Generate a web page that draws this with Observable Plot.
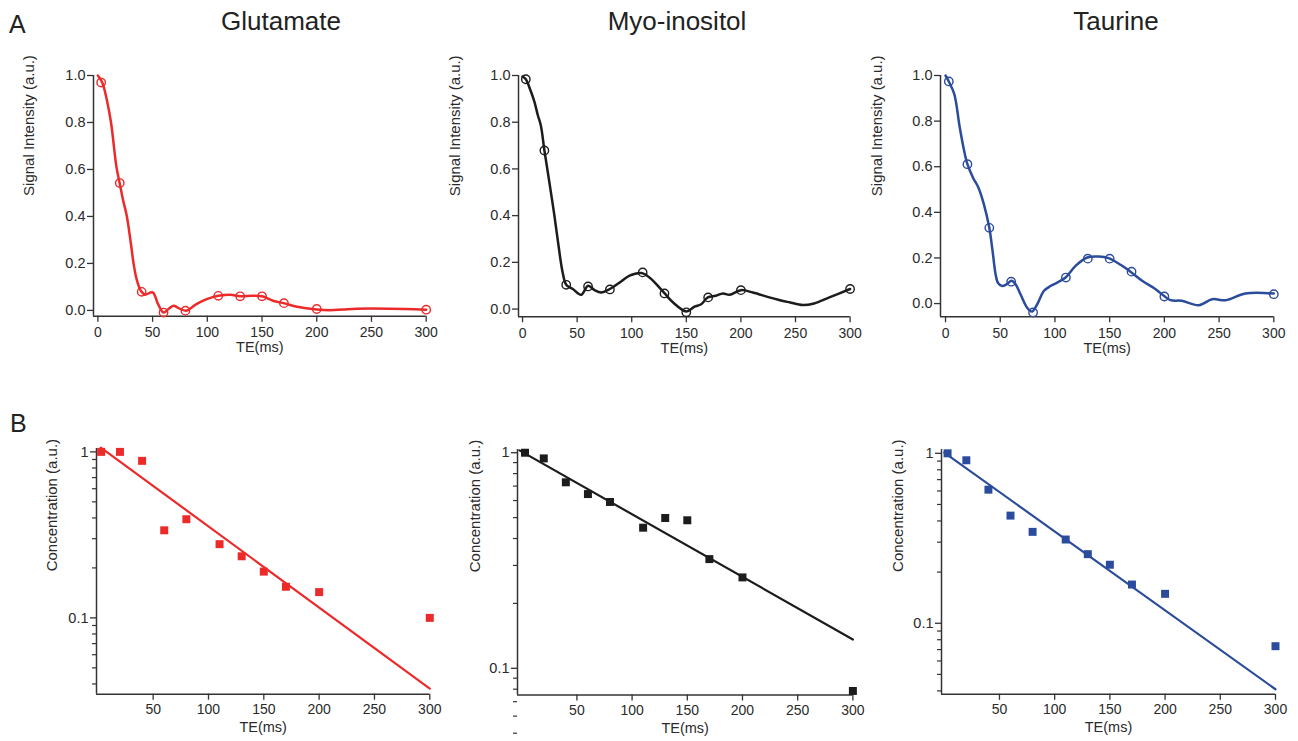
<!DOCTYPE html>
<html>
<head>
<meta charset="utf-8">
<script src="https://cdn.jsdelivr.net/npm/d3@7"></script>
<script src="https://cdn.jsdelivr.net/npm/@observablehq/plot@0.6"></script>
<style>
  html, body { margin: 0; padding: 0; background: #fff; }
  #wrap { position: relative; width: 1298px; height: 741px; overflow: hidden; font-family: "Liberation Sans", Arial, Helvetica, sans-serif; color: #222; }
  .title { position: absolute; font-size: 26px; line-height: 26px; white-space: nowrap; transform: translateX(-50%); }
  .letter { position: absolute; font-size: 25px; line-height: 25px; }
</style>
</head>
<body>
<div id="wrap">
  <div class="letter" style="left:9px; top:12px;">A</div>
  <div class="letter" style="left:10px; top:411px;">B</div>
  <div class="title" style="left:281px; top:8px;">Glutamate</div>
  <div class="title" style="left:677px; top:8px;">Myo-inositol</div>
  <div class="title" style="left:1116px; top:8px;">Taurine</div>
</div>
<script>
// ---------- data ----------
const TE = [3, 20, 40, 60, 80, 110, 130, 150, 170, 200, 300];

// Panel A: measured signal intensities (circles)
const gluSignal = [0.970, 0.542, 0.079, -0.009, -0.001, 0.062, 0.060, 0.060, 0.031, 0.006, 0.003];
const myoSignal = [0.984, 0.679, 0.104, 0.097, 0.084, 0.157, 0.067, -0.014, 0.050, 0.081, 0.086];
const tauSignal = [0.974, 0.611, 0.332, 0.096, -0.039, 0.114, 0.197, 0.197, 0.140, 0.031, 0.041];

// Panel A: simulated curves
const gluCurveTE = [0, 4, 8, 12, 17, 20, 23, 26.5, 30, 32.6, 35, 38, 40, 43, 50, 55, 60, 64.5, 69, 73.7, 80.7, 90, 99.5, 110, 121, 130, 140.6, 150, 160, 170.5, 182, 200, 212, 224, 236.5, 267, 300];
const gluCurveY  = [1.0, 0.97, 0.9, 0.8, 0.61, 0.54, 0.47, 0.4, 0.29, 0.2, 0.14, 0.095, 0.079, 0.067, 0.077, 0.027, -0.009, 0.006, 0.02, 0.01, -0.001, 0.027, 0.048, 0.062, 0.067, 0.06, 0.062, 0.06, 0.041, 0.03, 0.016, 0.004, 0.001, 0.004, 0.007, 0.007, 0.003];

const myoCurveTE = [0, 3, 7, 10.7, 14, 16.8, 20, 24, 29, 33, 36.6, 40, 46, 53.7, 60, 66, 72, 80, 89, 98, 108.7, 116, 130, 137.7, 150, 157.5, 163.6, 169.7, 177, 183.5, 189.6, 200, 211, 226, 235, 244.5, 256.7, 267, 281, 300];
const myoCurveY  = [0.995, 0.984, 0.94, 0.89, 0.83, 0.785, 0.68, 0.56, 0.406, 0.27, 0.16, 0.104, 0.086, 0.061, 0.1, 0.081, 0.071, 0.086, 0.114, 0.143, 0.154, 0.136, 0.068, 0.029, -0.01, 0.01, 0.021, 0.05, 0.057, 0.067, 0.061, 0.081, 0.071, 0.05, 0.039, 0.029, 0.017, 0.024, 0.05, 0.086];

const tauCurveTE = [0, 3, 8, 13, 17, 20, 25, 30, 35, 40, 43, 45.7, 48, 51.8, 56, 60.3, 64, 68.5, 74.6, 79, 83.8, 90, 96, 102, 109.7, 118.8, 129.5, 140, 149, 160, 169, 180, 192, 199.5, 205.6, 216, 231.5, 243.7, 256, 274, 300];
const tauCurveY  = [1.0, 0.974, 0.918, 0.772, 0.67, 0.611, 0.553, 0.509, 0.436, 0.332, 0.23, 0.13, 0.09, 0.077, 0.085, 0.1, 0.085, 0.041, -0.018, -0.035, -0.003, 0.056, 0.077, 0.092, 0.114, 0.165, 0.202, 0.206, 0.199, 0.17, 0.14, 0.099, 0.063, 0.034, 0.015, 0.012, -0.007, 0.019, 0.015, 0.044, 0.044];

// Panel B: concentrations (squares, log scale) and mono-exponential fits
const gluConc = [1.0, 1.0, 0.883, 0.337, 0.393, 0.278, 0.235, 0.190, 0.154, 0.143, 0.100];
const myoConc = [1.0, 0.941, 0.729, 0.643, 0.591, 0.449, 0.498, 0.486, 0.321, 0.264, 0.0785];
const tauConc = [1.0, 0.910, 0.611, 0.430, 0.345, 0.311, 0.255, 0.221, 0.169, 0.149, 0.0733];

const gluFitTE = [2.7, 300], gluFitC = [1.062, 0.0375];
const myoFitTE = [-2, 300],  myoFitC = [1.025, 0.136];
const tauFitTE = [0, 300],   tauFitC = [1.01, 0.0409];

// tick labels
const xTicksA = [0, 50, 100, 150, 200, 250, 300];
const yTicksA = [0, 0.2, 0.4, 0.6, 0.8, 1.0];
const xTicksB = [50, 100, 150, 200, 250, 300];
const yTicksB = [0.1, 1];
const yMinorB = [0.04, 0.05, 0.06, 0.07, 0.08, 0.09, 0.2, 0.3, 0.4, 0.5, 0.6, 0.7, 0.8, 0.9];

// ---------- drawing ----------
const FONT = '"Liberation Sans", Arial, Helvetica, sans-serif';
const RED = "#ec2a2a", BLACK = "#1c1c1c", BLUE = "#2b4c9c";
const AXIS = "#333";
const TXT = "#2a2a2a";
const wrap = document.getElementById("wrap");

function panel(cfg) {
  const mL = 90, mR = 20, mT = 12, mB = 55;
  const w = cfg.right - cfg.left + mL + mR;
  const h = cfg.bottom - cfg.top + mT + mB;
  const isLog = cfg.type === "log";
  const marks = [
    Plot.ruleX([cfg.xdom[0]], {stroke: AXIS, strokeWidth: 1.5}),
    Plot.ruleY([cfg.ydom[0]], {stroke: AXIS, strokeWidth: 1.5}),
    Plot.axisX({ticks: cfg.xticks, tickSize: 6, tickPadding: cfg.xPad, fontSize: 14, label: null, stroke: AXIS, strokeWidth: 1.3}),
    Plot.axisY({ticks: cfg.yticks, tickSize: 6, tickPadding: 2, fontSize: 14.5, label: null, stroke: AXIS, strokeWidth: 1.3,
      tickFormat: isLog ? d3.format("~g") : d3.format(".1f")}),
  ];
  if (isLog) {
    marks.push(Plot.axisY({ticks: yMinorB, tickSize: 4, tickFormat: () => "", label: null, stroke: AXIS, strokeWidth: 1.2}));
  }
  marks.push(
    Plot.text([cfg.ylabel], {text: d => d, frameAnchor: "left", dx: cfg.ylabelDx, rotate: -90, fontSize: 15, fill: TXT}),
    Plot.text(["TE(ms)"], {text: d => d, frameAnchor: "bottom", dy: cfg.xlabelDy, fontSize: 14.5, fill: TXT}),
    ...cfg.marks
  );
  const svg = Plot.plot({
    width: w, height: h,
    marginLeft: mL, marginRight: mR, marginTop: mT, marginBottom: mB,
    style: {fontFamily: FONT, color: TXT, background: "transparent", overflow: "visible"},
    x: {domain: cfg.xdom},
    y: {type: cfg.type || "linear", domain: cfg.ydom},
    marks
  });
  svg.style.position = "absolute";
  svg.style.left = (cfg.left - mL) + "px";
  svg.style.top = (cfg.top - mT) + "px";
  svg.style.maxWidth = "none";
  wrap.appendChild(svg);
}

function aMarks(curveTE, curveY, signal, color) {
  return [
    Plot.line(curveY, {x: curveTE, y: curveY, stroke: color, strokeWidth: 2.5, curve: "catmull-rom"}),
    Plot.dot(signal, {x: TE, y: signal, r: 4.2, stroke: color, strokeWidth: 1.4, fill: "none"})
  ];
}
function bMarks(fitTE, fitC, conc, color) {
  return [
    Plot.line(fitC, {x: fitTE, y: fitC, stroke: color, strokeWidth: 2.2}),
    Plot.dot(conc, {x: TE, y: conc, symbol: "square", r: 4.5, fill: color, stroke: "none"})
  ];
}

const labA = "Signal Intensity (a.u.)", labB = "Concentration (a.u.)";

panel({left: 93.3, right: 426, top: 74.7, bottom: 315.5, xdom: [-4, 300], ydom: [-0.025, 1.0],
  xticks: xTicksA, yticks: yTicksA, xPad: 5, ylabel: labA, ylabelDx: -64, xlabelDy: 36,
  marks: aMarks(gluCurveTE, gluCurveY, gluSignal, RED)});
panel({left: 517.7, right: 849.3, top: 74.7, bottom: 316, xdom: [-3.7, 300], ydom: [-0.033, 1.0],
  xticks: xTicksA, yticks: yTicksA, xPad: 5, ylabel: labA, ylabelDx: -63, xlabelDy: 36,
  marks: aMarks(myoCurveTE, myoCurveY, myoSignal, BLACK)});
panel({left: 940, right: 1273.3, top: 74.7, bottom: 316, xdom: [-4.6, 300], ydom: [-0.058, 1.0],
  xticks: xTicksA, yticks: yTicksA, xPad: 5, ylabel: labA, ylabelDx: -63, xlabelDy: 36,
  marks: aMarks(tauCurveTE, tauCurveY, tauSignal, BLUE)});

panel({type: "log", left: 95.7, right: 429, top: 448.3, bottom: 694, xdom: [-1.2, 300], ydom: [0.0347, 1.048],
  xticks: xTicksB, yticks: yTicksB, xPad: 4, ylabel: labB, ylabelDx: -44, xlabelDy: 38,
  marks: bMarks(gluFitTE, gluFitC, gluConc, RED)});
panel({type: "log", left: 517.3, right: 852.7, top: 448.5, bottom: 694, xdom: [-3.8, 300], ydom: [0.0752, 1.035],
  xticks: xTicksB, yticks: yTicksB, xPad: 4, ylabel: labB, ylabelDx: -42, xlabelDy: 38,
  marks: bMarks(myoFitTE, myoFitC, myoConc, BLACK)});
panel({type: "log", left: 941, right: 1275, top: 448.5, bottom: 693.3, xdom: [-2.5, 300], ydom: [0.0382, 1.053],
  xticks: xTicksB, yticks: yTicksB, xPad: 4, ylabel: labB, ylabelDx: -43, xlabelDy: 38,
  marks: bMarks(tauFitTE, tauFitC, tauConc, BLUE)});
</script>
</body>
</html>
